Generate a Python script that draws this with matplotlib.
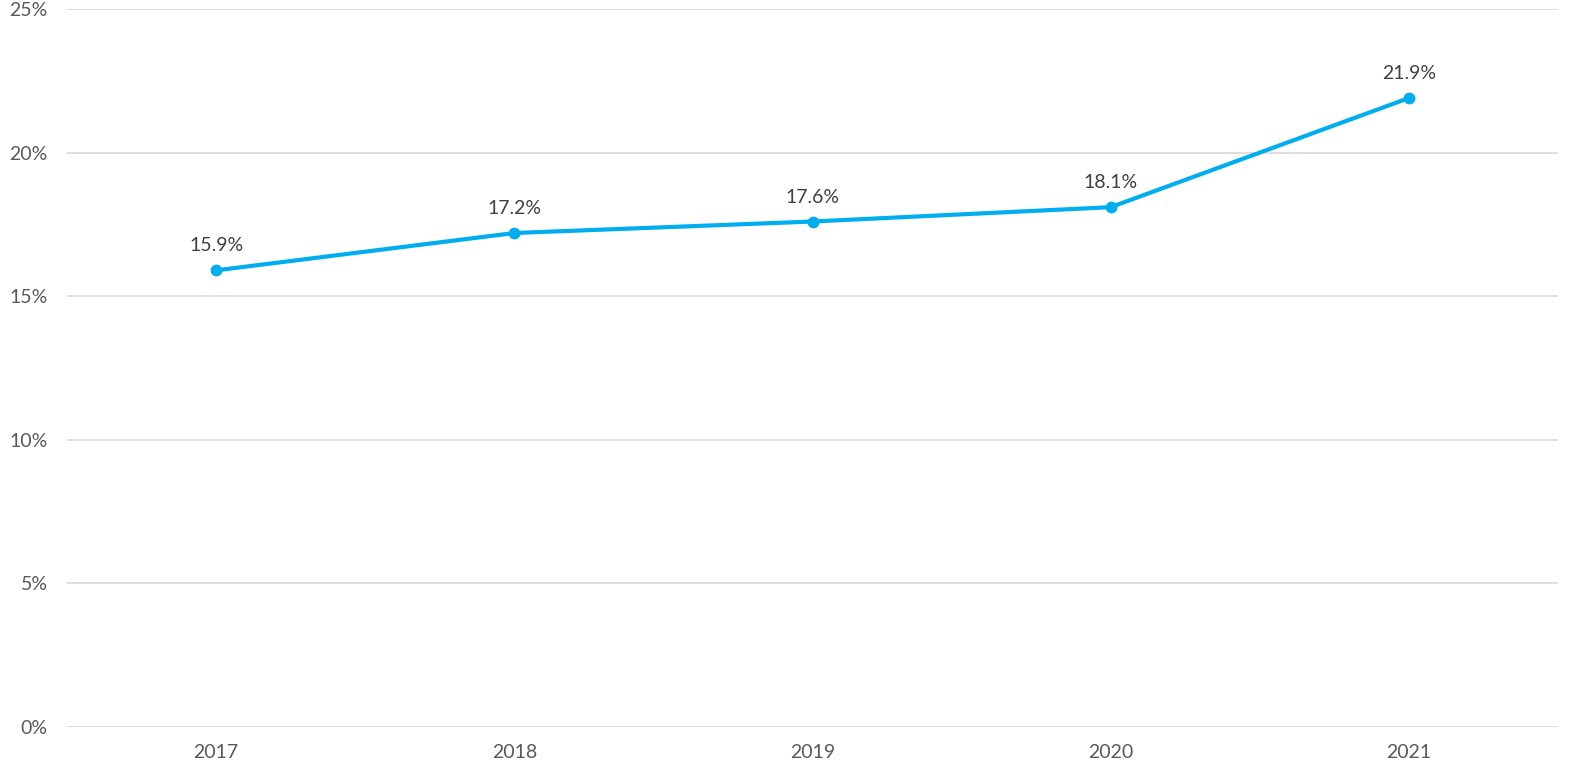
import matplotlib.pyplot as plt
import numpy as np

years = ['2017', '2018', '2019', '2020', '2021']
share = [15.9, 17.2, 17.6, 18.1, 21.9]
yticks = [0, 5, 10, 15, 20, 25]

plt.rcParams['font.family'] = ['Lato', 'DejaVu Sans']

fig = plt.figure(figsize=(15.69, 7.75), dpi=100)
ax = fig.add_axes([67 / 1569, 1 - 727 / 775, (1558 - 67) / 1569, 718 / 775])

x = np.arange(len(years))
ax.plot(x, share, color='#00AEEF', lw=3, marker='o', ms=7.5, solid_capstyle='round')
for xi, v in zip(x, share):
    ax.annotate(f'{v:.1f}%', (xi, v), xytext=(0, 11.5), textcoords='offset points',
                ha='center', va='bottom', fontsize=14, color='#404040')

ax.set_xlim(-0.5, len(years) - 0.5)
ax.set_ylim(0, 25)
ax.set_yticks(yticks)
ax.set_yticklabels([f'{t}%' for t in yticks])
ax.set_xticks(x)
ax.set_xticklabels(years)
ax.grid(axis='y', color='#D9D9D9', lw=1.2)
ax.set_axisbelow(True)
for s in ax.spines.values():
    s.set_visible(False)
ax.tick_params(length=0, labelsize=14, labelcolor='#595959')
ax.tick_params(axis='y', pad=14)
ax.tick_params(axis='x', pad=12)

fig.savefig('out.png', dpi=100)
